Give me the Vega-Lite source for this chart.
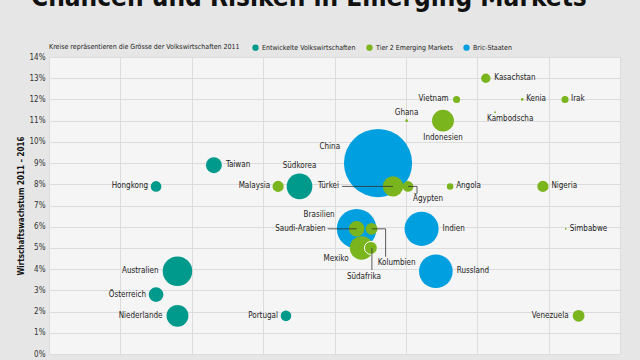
{
  "$schema": "https://vega.github.io/schema/vega-lite/v6.json",
  "autosize": {"type": "none"},
  "width": 571,
  "height": 297,
  "padding": {"left": 49, "top": 57, "right": 20, "bottom": 6},
  "background": "#e6e6e6",
  "config": {
    "font": "DejaVu Sans Condensed, DejaVu Sans, sans-serif",
    "view": {"fill": "#f5f5f5", "stroke": null}
  },
  "title": {
    "text": "Chancen und Risiken in Emerging Markets",
    "anchor": "start",
    "frame": "group",
    "fontSize": 26,
    "fontWeight": "bold",
    "color": "#111111",
    "dx": -18,
    "dy": -33,
    "offset": 0
  },
  "data": {
    "values": [
      {"name": "China", "gruppe": "Bric-Staaten", "risiko": 46.1, "wachstum": 9.0, "bip": 7400},
      {"name": "Brasilien", "gruppe": "Bric-Staaten", "risiko": 43.1, "wachstum": 5.9, "bip": 2490},
      {"name": "Indien", "gruppe": "Bric-Staaten", "risiko": 52.2, "wachstum": 5.9, "bip": 1850},
      {"name": "Russland", "gruppe": "Bric-Staaten", "risiko": 54.2, "wachstum": 3.9, "bip": 1800},
      {"name": "Hongkong", "gruppe": "Entwickelte Volkswirtschaften", "risiko": 15.0, "wachstum": 7.9, "bip": 180},
      {"name": "Taiwan", "gruppe": "Entwickelte Volkswirtschaften", "risiko": 23.1, "wachstum": 8.9, "bip": 405},
      {"name": "Südkorea", "gruppe": "Entwickelte Volkswirtschaften", "risiko": 35.1, "wachstum": 7.9, "bip": 1050},
      {"name": "Australien", "gruppe": "Entwickelte Volkswirtschaften", "risiko": 18.0, "wachstum": 3.9, "bip": 1390},
      {"name": "Österreich", "gruppe": "Entwickelte Volkswirtschaften", "risiko": 15.0, "wachstum": 2.8, "bip": 345},
      {"name": "Niederlande", "gruppe": "Entwickelte Volkswirtschaften", "risiko": 18.0, "wachstum": 1.8, "bip": 760},
      {"name": "Portugal", "gruppe": "Entwickelte Volkswirtschaften", "risiko": 33.2, "wachstum": 1.8, "bip": 180},
      {"name": "Kasachstan", "gruppe": "Tier 2 Emerging Markets", "risiko": 61.2, "wachstum": 13.0, "bip": 140},
      {"name": "Vietnam", "gruppe": "Tier 2 Emerging Markets", "risiko": 57.1, "wachstum": 12.0, "bip": 80},
      {"name": "Kenia", "gruppe": "Tier 2 Emerging Markets", "risiko": 66.3, "wachstum": 12.0, "bip": 11},
      {"name": "Irak", "gruppe": "Tier 2 Emerging Markets", "risiko": 72.3, "wachstum": 12.0, "bip": 80},
      {"name": "Kambodscha", "gruppe": "Tier 2 Emerging Markets", "risiko": 62.5, "wachstum": 11.4, "bip": 5},
      {"name": "Ghana", "gruppe": "Tier 2 Emerging Markets", "risiko": 50.1, "wachstum": 11.0, "bip": 11},
      {"name": "Indonesien", "gruppe": "Tier 2 Emerging Markets", "risiko": 55.2, "wachstum": 11.0, "bip": 760},
      {"name": "Angola", "gruppe": "Tier 2 Emerging Markets", "risiko": 56.2, "wachstum": 7.9, "bip": 68},
      {"name": "Nigeria", "gruppe": "Tier 2 Emerging Markets", "risiko": 69.2, "wachstum": 7.9, "bip": 200},
      {"name": "Türkei", "gruppe": "Tier 2 Emerging Markets", "risiko": 48.2, "wachstum": 7.9, "bip": 660},
      {"name": "Ägypten", "gruppe": "Tier 2 Emerging Markets", "risiko": 50.3, "wachstum": 7.9, "bip": 180},
      {"name": "Malaysia", "gruppe": "Tier 2 Emerging Markets", "risiko": 32.1, "wachstum": 7.9, "bip": 200},
      {"name": "Saudi-Arabien", "gruppe": "Tier 2 Emerging Markets", "risiko": 43.1, "wachstum": 5.9, "bip": 383},
      {"name": "Kolumbien", "gruppe": "Tier 2 Emerging Markets", "risiko": 45.2, "wachstum": 5.9, "bip": 224},
      {"name": "Mexiko", "gruppe": "Tier 2 Emerging Markets", "risiko": 43.8, "wachstum": 5.0, "bip": 885},
      {"name": "Südafrika", "gruppe": "Tier 2 Emerging Markets", "risiko": 45.1, "wachstum": 5.0, "bip": 266},
      {"name": "Simbabwe", "gruppe": "Tier 2 Emerging Markets", "risiko": 72.4, "wachstum": 5.9, "bip": 5},
      {"name": "Venezuela", "gruppe": "Tier 2 Emerging Markets", "risiko": 74.2, "wachstum": 1.8, "bip": 224}
    ]
  },
  "encoding": {
    "x": {
      "field": "risiko", "type": "quantitative",
      "scale": {"domain": [0, 80], "nice": false},
      "axis": {"title": null, "values": [0, 10, 20, 30, 40, 50, 60, 70, 80], "grid": true, "gridColor": "#dcdcdc", "domain": false, "ticks": false, "labelFontSize": 8, "labelColor": "#333333", "labelPadding": 6}
    },
    "y": {
      "field": "wachstum", "type": "quantitative",
      "scale": {"domain": [0, 14], "nice": false},
      "axis": {"title": "Wirtschaftswachstum 2011 – 2016", "titleFontSize": 8, "titleFontWeight": "bold", "titleColor": "#111111", "titlePadding": 4, "values": [0, 1, 2, 3, 4, 5, 6, 7, 8, 9, 10, 11, 12, 13, 14], "labelExpr": "datum.value + '%'", "grid": true, "gridColor": "#dcdcdc", "domain": false, "ticks": false, "labelFontSize": 8, "labelColor": "#333333", "labelPadding": 4}
    }
  },
  "layer": [
    {
      "mark": {"type": "circle", "opacity": 1, "stroke": "#ffffff"},
      "encoding": {
        "color": {
          "field": "gruppe", "type": "nominal",
          "scale": {"domain": ["Entwickelte Volkswirtschaften", "Tier 2 Emerging Markets", "Bric-Staaten"], "range": ["#009a8c", "#7ab51d", "#009fe0"]},
          "legend": {
            "orient": "none", "legendX": 0, "legendY": -13, "direction": "horizontal",
            "title": "Kreise repräsentieren die Grösse der Volkswirtschaften 2011",
            "titleOrient": "left", "titleFontWeight": "normal", "titleFontSize": 7, "titleColor": "#222222", "titlePadding": 12, "titleLimit": 400,
            "labelFontSize": 7, "labelColor": "#222222", "labelOffset": 3, "labelLimit": 300,
            "symbolType": "circle", "symbolSize": 40, "symbolStrokeWidth": 0, "columnPadding": 10
          }
        },
        "size": {"field": "bip", "type": "quantitative", "scale": {"type": "linear", "domain": [0, 7500], "range": [0, 4712], "zero": true}, "legend": null},
        "order": {"field": "bip", "sort": "descending"},
        "strokeWidth": {"condition": {"test": "datum.name === 'Südafrika'", "value": 1}, "value": 0}
      }
    },
    {
      "transform": [{"filter": {"field": "name", "oneOf": ["Türkei"]}}],
      "mark": {"type": "rule", "color": "#333333", "strokeWidth": 0.8, "xOffset": -51, "x2Offset": 0},
      "encoding": {"x2": {"field": "risiko"}}
    },
    {
      "transform": [{"filter": {"field": "name", "oneOf": ["Saudi-Arabien"]}}],
      "mark": {"type": "rule", "color": "#333333", "strokeWidth": 0.8, "xOffset": -29, "x2Offset": 0},
      "encoding": {"x2": {"field": "risiko"}}
    },
    {
      "transform": [{"filter": {"field": "name", "oneOf": ["Ägypten"]}}],
      "mark": {"type": "rule", "color": "#333333", "strokeWidth": 0.8, "xOffset": 0, "x2Offset": 9},
      "encoding": {"x2": {"field": "risiko"}}
    },
    {
      "transform": [{"filter": {"field": "name", "oneOf": ["Ägypten"]}}],
      "mark": {"type": "rule", "color": "#333333", "strokeWidth": 0.8, "xOffset": 9, "yOffset": 0, "y2Offset": 7},
      "encoding": {"y2": {"field": "wachstum"}}
    },
    {
      "transform": [{"filter": {"field": "name", "oneOf": ["Kolumbien"]}}],
      "mark": {"type": "rule", "color": "#333333", "strokeWidth": 0.8, "xOffset": 0, "x2Offset": 14},
      "encoding": {"x2": {"field": "risiko"}}
    },
    {
      "transform": [{"filter": {"field": "name", "oneOf": ["Kolumbien"]}}],
      "mark": {"type": "rule", "color": "#333333", "strokeWidth": 0.8, "xOffset": 14, "yOffset": 0, "y2Offset": 28},
      "encoding": {"y2": {"field": "wachstum"}}
    },
    {
      "transform": [{"filter": {"field": "name", "oneOf": ["Südafrika"]}}],
      "mark": {"type": "rule", "color": "#333333", "strokeWidth": 0.8, "xOffset": 1, "yOffset": 0, "y2Offset": 22},
      "encoding": {"y2": {"field": "wachstum"}}
    },
    {
      "transform": [{"filter": {"field": "name", "oneOf": ["Hongkong", "Malaysia", "Vietnam", "Portugal"]}}],
      "mark": {"type": "text", "align": "right", "baseline": "middle", "dx": -8, "fontSize": 8, "color": "#222222"},
      "encoding": {"text": {"field": "name"}}
    },
    {
      "transform": [{"filter": {"field": "name", "oneOf": ["Venezuela", "Österreich"]}}],
      "mark": {"type": "text", "align": "right", "baseline": "middle", "dx": -10, "fontSize": 8, "color": "#222222"},
      "encoding": {"text": {"field": "name"}}
    },
    {
      "transform": [{"filter": {"field": "name", "oneOf": ["Niederlande"]}}],
      "mark": {"type": "text", "align": "right", "baseline": "middle", "dx": -15, "fontSize": 8, "color": "#222222"},
      "encoding": {"text": {"field": "name"}}
    },
    {
      "transform": [{"filter": {"field": "name", "oneOf": ["Australien"]}}],
      "mark": {"type": "text", "align": "right", "baseline": "middle", "dx": -19, "fontSize": 8, "color": "#222222"},
      "encoding": {"text": {"field": "name"}}
    },
    {
      "transform": [{"filter": {"field": "name", "oneOf": ["Saudi-Arabien"]}}],
      "mark": {"type": "text", "align": "right", "baseline": "middle", "dx": -31, "fontSize": 8, "color": "#222222"},
      "encoding": {"text": {"field": "name"}}
    },
    {
      "transform": [{"filter": {"field": "name", "oneOf": ["Türkei"]}}],
      "mark": {"type": "text", "align": "right", "baseline": "middle", "dx": -54, "fontSize": 8, "color": "#222222"},
      "encoding": {"text": {"field": "name"}}
    },
    {
      "transform": [{"filter": {"field": "name", "oneOf": ["Mexiko"]}}],
      "mark": {"type": "text", "align": "right", "baseline": "middle", "dx": -13, "dy": 11, "fontSize": 8, "color": "#222222"},
      "encoding": {"text": {"field": "name"}}
    },
    {
      "transform": [{"filter": {"field": "name", "oneOf": ["China"]}}],
      "mark": {"type": "text", "align": "right", "baseline": "middle", "dx": -38, "dy": -16, "fontSize": 8, "color": "#222222"},
      "encoding": {"text": {"field": "name"}}
    },
    {
      "transform": [{"filter": {"field": "name", "oneOf": ["Brasilien"]}}],
      "mark": {"type": "text", "align": "right", "baseline": "middle", "dx": -22, "dy": -14, "fontSize": 8, "color": "#222222"},
      "encoding": {"text": {"field": "name"}}
    },
    {
      "transform": [{"filter": {"field": "name", "oneOf": ["Kenia", "Simbabwe"]}}],
      "mark": {"type": "text", "align": "left", "baseline": "middle", "dx": 4, "fontSize": 8, "color": "#222222"},
      "encoding": {"text": {"field": "name"}}
    },
    {
      "transform": [{"filter": {"field": "name", "oneOf": ["Irak", "Angola"]}}],
      "mark": {"type": "text", "align": "left", "baseline": "middle", "dx": 6, "fontSize": 8, "color": "#222222"},
      "encoding": {"text": {"field": "name"}}
    },
    {
      "transform": [{"filter": {"field": "name", "oneOf": ["Kasachstan", "Nigeria"]}}],
      "mark": {"type": "text", "align": "left", "baseline": "middle", "dx": 8.5, "fontSize": 8, "color": "#222222"},
      "encoding": {"text": {"field": "name"}}
    },
    {
      "transform": [{"filter": {"field": "name", "oneOf": ["Taiwan"]}}],
      "mark": {"type": "text", "align": "left", "baseline": "middle", "dx": 12, "fontSize": 8, "color": "#222222"},
      "encoding": {"text": {"field": "name"}}
    },
    {
      "transform": [{"filter": {"field": "name", "oneOf": ["Indien", "Russland"]}}],
      "mark": {"type": "text", "align": "left", "baseline": "middle", "dx": 21, "fontSize": 8, "color": "#222222"},
      "encoding": {"text": {"field": "name"}}
    },
    {
      "transform": [{"filter": {"field": "name", "oneOf": ["Kambodscha"]}}],
      "mark": {"type": "text", "align": "left", "baseline": "middle", "dx": -8, "dy": 7, "fontSize": 8, "color": "#222222"},
      "encoding": {"text": {"field": "name"}}
    },
    {
      "transform": [{"filter": {"field": "name", "oneOf": ["Südkorea"]}}],
      "mark": {"type": "text", "align": "center", "baseline": "middle", "dy": -20, "fontSize": 8, "color": "#222222"},
      "encoding": {"text": {"field": "name"}}
    },
    {
      "transform": [{"filter": {"field": "name", "oneOf": ["Ghana"]}}],
      "mark": {"type": "text", "align": "center", "baseline": "middle", "dy": -8, "fontSize": 8, "color": "#222222"},
      "encoding": {"text": {"field": "name"}}
    },
    {
      "transform": [{"filter": {"field": "name", "oneOf": ["Indonesien"]}}],
      "mark": {"type": "text", "align": "center", "baseline": "middle", "dy": 17, "fontSize": 8, "color": "#222222"},
      "encoding": {"text": {"field": "name"}}
    },
    {
      "transform": [{"filter": {"field": "name", "oneOf": ["Ägypten"]}}],
      "mark": {"type": "text", "align": "center", "baseline": "middle", "dx": 20, "dy": 13, "fontSize": 8, "color": "#222222"},
      "encoding": {"text": {"field": "name"}}
    },
    {
      "transform": [{"filter": {"field": "name", "oneOf": ["Kolumbien"]}}],
      "mark": {"type": "text", "align": "center", "baseline": "middle", "dx": 25, "dy": 34, "fontSize": 8, "color": "#222222"},
      "encoding": {"text": {"field": "name"}}
    },
    {
      "transform": [{"filter": {"field": "name", "oneOf": ["Südafrika"]}}],
      "mark": {"type": "text", "align": "center", "baseline": "middle", "dx": -7, "dy": 29, "fontSize": 8, "color": "#222222"},
      "encoding": {"text": {"field": "name"}}
    }
  ]
}
